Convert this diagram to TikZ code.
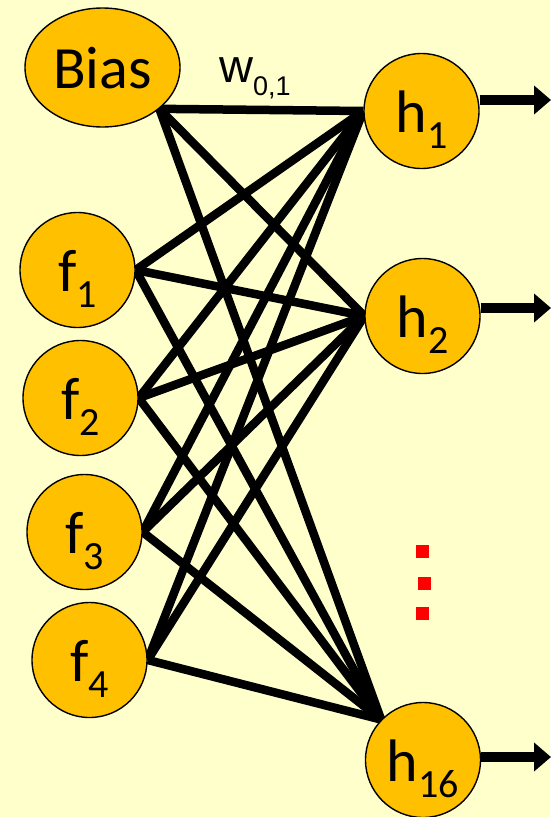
\documentclass[tikz,border=0pt]{standalone}
\usepackage{fontspec}
\setmainfont{Carlito}
\newfontfamily\labelsans{Liberation Sans}
\usetikzlibrary{shapes.geometric,arrows.meta}
\definecolor{paper}{HTML}{FFFFCC}
\definecolor{unitfill}{HTML}{FFC000}
\pgfdeclarelayer{bg}
\pgfsetlayers{bg,main}
\newcommand{\unitlab}[2]{#1\raisebox{-16pt}{\fontsize{40}{40}\selectfont #2}}
\tikzset{
  unit/.style={circle, draw=black, line width=1.4pt, fill=unitfill,
    minimum size=115pt, inner sep=0pt, font=\fontsize{60}{60}\selectfont,
    text height=42pt, text depth=0pt},
  biasunit/.style={unit, ellipse, minimum width=155pt, minimum height=119pt},
  weight/.style={line width=8.5pt, black},
  outarrow/.style={line width=10pt, black, -{Triangle[length=17pt,width=28pt]}},
  dot/.style={fill=red, draw=none, minimum size=13pt, inner sep=0pt, rectangle}
}
\begin{document}
\begin{tikzpicture}[x=1pt, y=-1pt]
\useasboundingbox (0,0) rectangle (550,817);
\begin{pgfonlayer}{bg}
  \fill[paper] (0,0) rectangle (550,817);
\end{pgfonlayer}

% input layer
\node[biasunit] (bias) at (102.5,67.5) {Bias};
\node[unit] (f1) at (77.5,270) {\unitlab{f}{1}};
\node[unit] (f2) at (80.5,398) {\unitlab{f}{2}};
\node[unit] (f3) at (84.5,532) {\unitlab{f}{3}};
\node[unit] (f4) at (89.5,660) {\unitlab{f}{4}};

% hidden layer
\node[unit] (h1) at (421.5,111) {\unitlab{h}{1}};
\node[unit] (h2) at (422.5,316) {\unitlab{h}{2}};
\node[unit] (h16) at (423,760) {\unitlab{h}{16}};

% weight label
\node[anchor=base west, inner sep=0pt, font=\labelsans\fontsize{47}{47}\selectfont]
  (w01) at (219,82) {w\raisebox{-13pt}{\fontsize{27}{27}\selectfont 0,1}};

% ellipsis between h2 and h16
\node[dot] (d1) at (422.5,551) {};
\node[dot] (d2) at (424.5,583.5) {};
\node[dot] (d3) at (422.5,613.5) {};

% fully connected weights
\begin{pgfonlayer}{bg}
  \foreach \src/\sa in {bias/-36, f1/east, f2/east, f3/east, f4/east}{
    \draw[weight] (\src.\sa) -- (h1.west);
    \draw[weight] (\src.\sa) -- (h2.west);
    \draw[weight] (\src.\sa) -- (h16.136);
  }
\end{pgfonlayer}

% outputs
\coordinate (o1) at (551,100);
\coordinate (o2) at (551,308);
\coordinate (o16) at (551,757);
\draw[outarrow] (h1.east |- o1) -- (o1);
\draw[outarrow] (h2.east |- o2) -- (o2);
\draw[outarrow] (h16.east |- o16) -- (o16);
\end{tikzpicture}
\end{document}
